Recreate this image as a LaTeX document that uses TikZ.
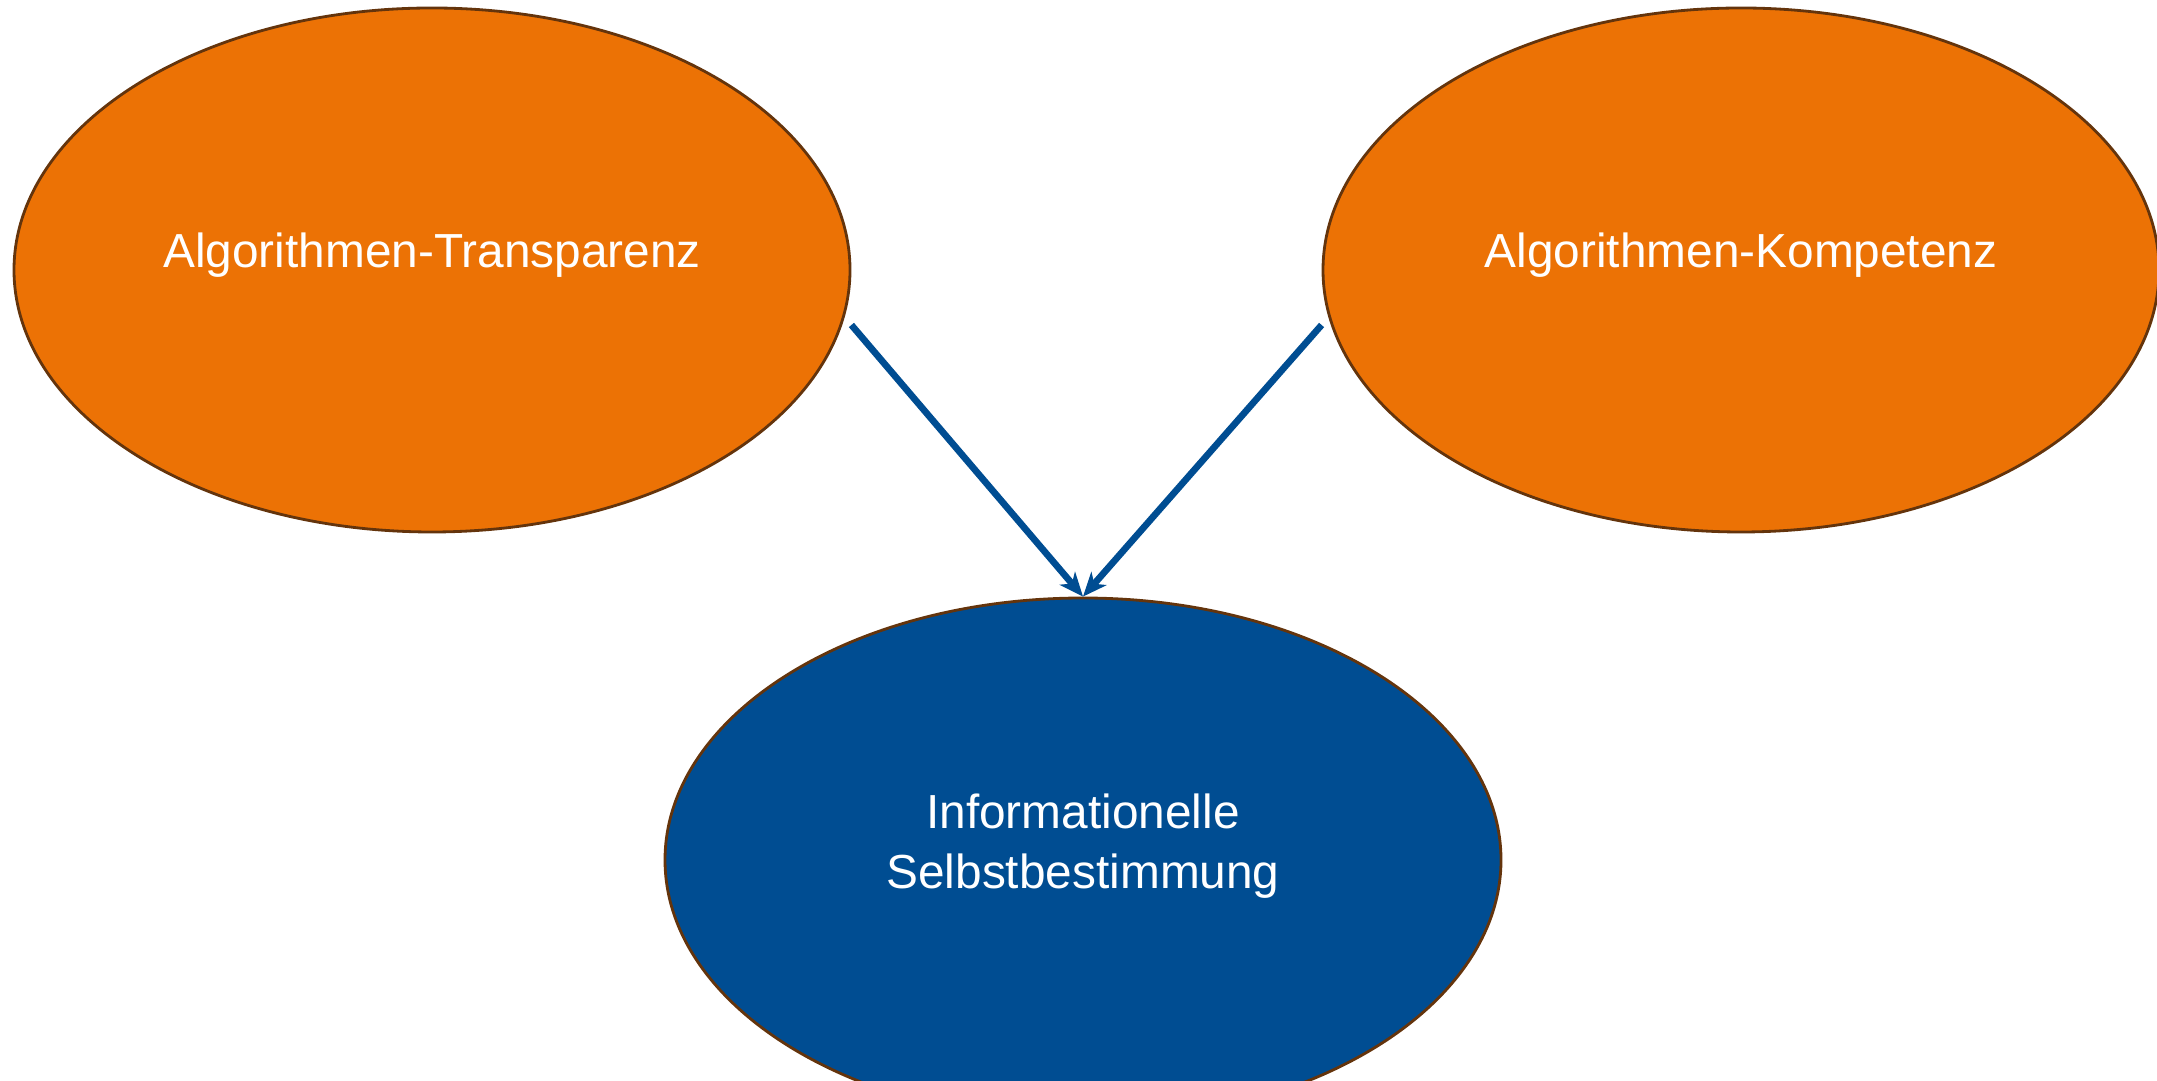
\documentclass[tikz,border=0pt]{standalone}
\usepackage{fontspec}
\setmainfont{Liberation Sans}
\usetikzlibrary{shapes.geometric,arrows.meta}
\definecolor{goalorange}{RGB}{236,114,5}
\definecolor{goalblue}{RGB}{0,77,146}
\definecolor{goalborder}{RGB}{100,52,12}
\begin{document}
\begin{tikzpicture}[
goal/.style={ellipse,draw=goalborder,line width=0.8pt,minimum width=8.36cm,minimum height=5.24cm,inner sep=0pt},
goaltext/.style={text=white,align=center,font=\fontsize{13.6}{17}\selectfont},
influence/.style={-{Stealth[length=0.24cm,width=0.2cm,inset=0.07cm]},draw=goalblue,line width=1.9pt},
]
\useasboundingbox (0,0) rectangle (21.57,-10.81);
%ellipses
\node[goal,fill=goalorange](transp)at(4.32,-2.70){};
\node[goal,fill=goalorange](kompet)at(17.41,-2.70){};
\node[goal,fill=goalblue](selbst)at(10.83,-8.60){};
%texts
\node[goaltext,anchor=base](transptext)at(4.32,-2.68){Algorithmen-Transparenz};
\node[goaltext,anchor=base](kompettext)at(17.41,-2.68){Algorithmen-Kompetenz};
\node[goaltext](selbsttext)at(10.83,-8.46){Informationelle\\Selbstbestimmung};
%arrows
\draw[influence]([yshift=-0.55cm]transp.east)--(selbst.north);
\draw[influence]([yshift=-0.55cm]kompet.west)--(selbst.north);
\end{tikzpicture}
\end{document}
